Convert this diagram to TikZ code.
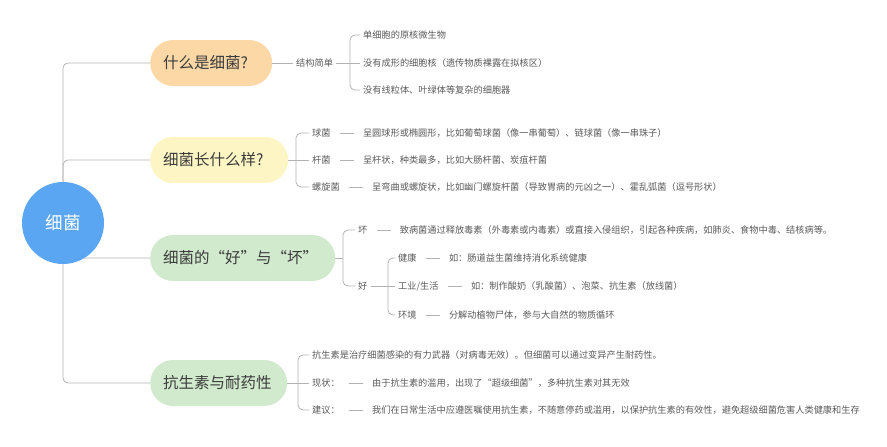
\documentclass[tikz,border=0pt]{standalone}
\usepackage{fontspec}
\setmainfont{Noto Sans CJK SC}
\usetikzlibrary{positioning, backgrounds}
\definecolor{rootblue}{HTML}{5AA6F2}
\definecolor{peach}{HTML}{FBD8A6}
\definecolor{cream}{HTML}{FDF5C3}
\definecolor{mint}{HTML}{D1EACD}
\definecolor{linegray}{HTML}{B2B2B2}
\definecolor{topicgray}{HTML}{3C3C3C}
\definecolor{leafgray}{HTML}{5A5A5A}
\tikzset{
  root/.style={circle, fill=rootblue, text=white, minimum size=82pt, inner sep=0pt, font=\fontsize{17.5}{20}\selectfont},
  topic/.style={rectangle, rounded corners=23pt, anchor=west, minimum height=46pt, inner xsep=13pt, inner ysep=0pt, align=left, text=topicgray, font=\fontsize{15.5}{18}\selectfont},
  leaf/.style={anchor=west, inner xsep=3pt, inner ysep=1pt, text height=8pt, text depth=1.5pt, text=leafgray, font=\fontsize{9.2}{11}\selectfont},
  link/.style={draw=linegray, line width=0.8pt, rounded corners=5pt},
  tie/.style={link, shorten <=6pt, shorten >=6pt}
}

\begin{document}
\begin{tikzpicture}[x=1pt, y=-1pt, node distance=26pt]
    \useasboundingbox (0,0) rectangle (887,447);
    % root and main topics
    \node[root] (root) at (63,223) {细菌};
    \node[topic, fill=peach, text width=96pt] (what) at (150,63) {什么是细菌?};
    \node[topic, fill=cream, text width=112pt] (shape) at (150,160) {细菌长什么样?};
    \node[topic, fill=mint, text width=159pt] (role) at (150,258) {细菌的“好”与“坏”};
    \node[topic, fill=mint, text width=111pt] (drug) at (150,383) {抗生素与耐药性};

    % what
    \node[leaf] (simple) at (293,63) {结构简单};
    \coordinate (bwhat) at (350,63);
    \node[leaf] (single) at (360,35) {单细胞的原核微生物};
    \node[leaf] (nucleus) at (360,63) {没有成形的细胞核（遗传物质裸露在拟核区）};
    \node[leaf] (organelle) at (360,90) {没有线粒体、叶绿体等复杂的细胞器};

    % shape
    \coordinate (bshape) at (296,160);
    \node[leaf] (coccus) at (309,133) {球菌};
    \node[leaf] (bacillus) at (309,160) {杆菌};
    \node[leaf] (spiral) at (309,187) {螺旋菌};
    \node[leaf, right=of coccus] (coccusd) {呈圆球形或椭圆形，比如葡萄球菌（像一串葡萄）、链球菌（像一串珠子）};
    \node[leaf, right=of bacillus] (bacillusd) {呈杆状，种类最多，比如大肠杆菌、炭疽杆菌};
    \node[leaf, right=of spiral] (spirald) {呈弯曲或螺旋状，比如幽门螺旋杆菌（导致胃病的元凶之一）、霍乱弧菌（逗号形状）};

    % role
    \coordinate (brole) at (343,258);
    \node[leaf] (bad) at (355,230) {坏};
    \node[leaf] (good) at (355,286) {好};
    \node[leaf, right=of bad] (badd) {致病菌通过释放毒素（外毒素或内毒素）或直接入侵组织，引起各种疾病，如肺炎、食物中毒、结核病等。};
    \coordinate (bgood) at (388,286);
    \node[leaf] (health) at (395,258) {健康};
    \node[leaf] (industry) at (395,286) {工业/生活};
    \node[leaf] (nature) at (395,315) {环境};
    \node[leaf, right=of health] (healthd) {如：肠道益生菌维持消化系统健康};
    \node[leaf, right=of industry] (industryd) {如：制作酸奶（乳酸菌）、泡菜、抗生素（放线菌）};
    \node[leaf, right=of nature] (natured) {分解动植物尸体，参与大自然的物质循环};

    % drug
    \coordinate (bdrug) at (298,383);
    \node[leaf] (weapon) at (309,355) {抗生素是治疗细菌感染的有力武器（对病毒无效）。但细菌可以通过变异产生耐药性。};
    \node[leaf] (now) at (309,383) {现状：};
    \node[leaf] (advice) at (309,410) {建议：};
    \node[leaf, right=of now] (nowd) {由于抗生素的滥用，出现了“超级细菌”，多种抗生素对其无效};
    \node[leaf, right=of advice] (adviced) {我们在日常生活中应遵医嘱使用抗生素，不随意停药或滥用，以保护抗生素的有效性，避免超级细菌危害人类健康和生存};

    \begin{scope}[on background layer]
      \foreach \t in {what, shape, role, drug}
        \draw[link] (root.center) |- (\t.west);
      \draw[link] (what.east) -- (simple.west);
      \draw[link] (simple.east) -- (nucleus.west);
      \foreach \c in {single, organelle}
        \draw[link] (bwhat) |- (\c.west);
      \draw[link] (shape.east) -- (bacillus.west);
      \foreach \c in {coccus, spiral}
        \draw[link] (bshape) |- (\c.west);
      \draw[link] (role.east) -- (brole);
      \foreach \c in {bad, good}
        \draw[link] (brole) |- (\c.west);
      \draw[link] (good.east) -- (industry.west);
      \foreach \c in {health, nature}
        \draw[link] (bgood) |- (\c.west);
      \draw[link] (drug.east) -- (now.west);
      \foreach \c in {weapon, advice}
        \draw[link] (bdrug) |- (\c.west);
      \foreach \a/\b in {coccus/coccusd, bacillus/bacillusd, spiral/spirald, bad/badd, health/healthd, industry/industryd, nature/natured, now/nowd, advice/adviced}
        \draw[tie] (\a) -- (\b);
    \end{scope}
\end{tikzpicture}
\end{document}
